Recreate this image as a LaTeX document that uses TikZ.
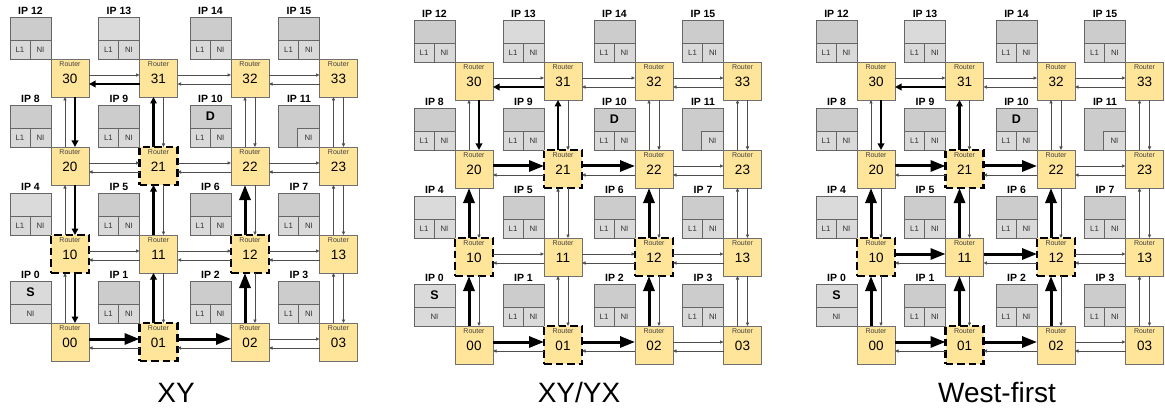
\documentclass[tikz,border=0pt]{standalone}
\usepackage{fontspec}
\setmainfont{Liberation Sans}
\usetikzlibrary{arrows.meta}
\definecolor{rfill}{HTML}{FFE599}
\definecolor{rdraw}{HTML}{707070}
\definecolor{iptop}{HTML}{CCCCCC}
\definecolor{iplight}{HTML}{DADADA}
\definecolor{ipcell}{HTML}{D9D9D9}
\definecolor{ipdraw}{HTML}{666666}
\definecolor{linkc}{HTML}{4D4D4D}
\newcommand\tk[4]{\expandafter\def\csname tk-#1-#2-#3\endcsname{#4}}
\newcommand\getst[3]{\ifcsname tk-#1-#2-#3\endcsname\edef\st{\csname tk-#1-#2-#3\endcsname}\else\def\st{thinarr}\fi}
\expandafter\def\csname dsh21\endcsname{}
\expandafter\def\csname dsh10\endcsname{}
\expandafter\def\csname dsh12\endcsname{}
\expandafter\def\csname dsh01\endcsname{}
\expandafter\def\csname lt13\endcsname{}
\expandafter\def\csname lt4\endcsname{}
\expandafter\def\csname lt0\endcsname{}
% panel a : XY
\tk{a}{00}{01}{tkbig}\tk{a}{01}{02}{tkbig}\tk{a}{02}{12}{tkbig}\tk{a}{12}{22}{tkbig}
\tk{a}{31}{30}{tksmall}\tk{a}{30}{20}{tksmall}\tk{a}{20}{10}{tksmall}\tk{a}{10}{00}{tksmall}
\tk{a}{01}{11}{tksmall}\tk{a}{11}{21}{tksmall}\tk{a}{21}{31}{tksmall}
% panel b : XY/YX
\tk{b}{00}{01}{tkbig}\tk{b}{01}{02}{tkbig}\tk{b}{02}{12}{tkbig}\tk{b}{12}{22}{tkbig}
\tk{b}{00}{10}{tkbig}\tk{b}{10}{20}{tkbig}\tk{b}{20}{21}{tkbig}\tk{b}{21}{22}{tkbig}
\tk{b}{31}{30}{tksmall}\tk{b}{30}{20}{tksmall}\tk{b}{21}{31}{tksmall}
% panel c : West-first
\tk{c}{00}{01}{tkbig}\tk{c}{01}{02}{tkbig}\tk{c}{02}{12}{tkbig}\tk{c}{12}{22}{tkbig}
\tk{c}{00}{10}{tkbig}\tk{c}{10}{20}{tkbig}\tk{c}{20}{21}{tkbig}\tk{c}{21}{22}{tkbig}
\tk{c}{10}{11}{tkbig}\tk{c}{11}{12}{tkbig}\tk{c}{01}{11}{tkbig}\tk{c}{11}{21}{tkbig}
\tk{c}{31}{30}{tksmall}\tk{c}{30}{20}{tksmall}\tk{c}{21}{31}{tksmall}
\begin{document}
\begin{tikzpicture}[x=1pt,y=-1pt,
  router/.style={rectangle, minimum size=38pt, inner sep=0pt, outer sep=0pt, fill=rfill, draw=rdraw, line width=0.8pt},
  routerd/.style={router, draw=black, line width=2.3pt, dash pattern=on 7.5pt off 4pt},
  rtxt/.style={inner sep=0pt, font=\fontsize{7}{8}\selectfont, text=black!75},
  rnum/.style={inner sep=0pt, font=\fontsize{13.5}{15}\selectfont},
  ipbox/.style={rectangle, minimum width=41pt, minimum height=42pt, inner sep=0pt, outer sep=0pt, draw=ipdraw, line width=0.8pt},
  ipcellst/.style={draw=ipdraw, line width=0.8pt, fill=ipcell},
  iptxt/.style={inner sep=0pt, font=\fontsize{7.8}{9}\selectfont, text=black!80},
  iplabel/.style={inner sep=0pt, font=\bfseries\fontsize{10.5}{12}\selectfont},
  ipsd/.style={inner sep=0pt, font=\bfseries\fontsize{12.5}{14}\selectfont},
  plabel/.style={inner sep=0pt, anchor=base, font=\fontsize{28}{30}\selectfont},
  thinarr/.style={draw=linkc, line width=0.7pt, -{Triangle[length=3.5pt,width=3.2pt]}},
  tkbig/.style={draw=black, line width=3pt, -{Triangle[length=15pt,width=11pt]}},
  tksmall/.style={draw=black, line width=2.3pt, -{Triangle[length=6.5pt,width=6.5pt]}}]
\useasboundingbox (0,0) rectangle (1165,409);
\foreach \p/\xa/\xb/\xc/\xd/\ya in {a/70/158.5/250/338.5/0, b/474/563/654/742.5/3, c/876/964.5/1056/1144.5/3}{
  \foreach \r/\yy in {0/342,1/254,2/166,3/78}{
    \foreach \c/\xx in {0/\xa,1/\xb,2/\xc,3/\xd}{
      \pgfmathsetmacro\x{\xx}
      \pgfmathsetmacro\y{\yy+\ya}
      \pgfmathtruncatemacro\n{4*\r+\c}
      % IP block
      \ifcsname lt\n\endcsname\def\topc{iplight}\else\def\topc{iptop}\fi
      \node[ipbox, fill=\topc] (\p ip\r\c) at (\x-39.5,\y-40) {};
      \node[iplabel] (\p ipl\r\c) at (\x-39.5,\y-67) {IP \n};
      \ifnum\n=0
        \draw[ipcellst, fill=iplight] (\x-60,\y-38) rectangle (\x-19,\y-19);
        \node[iptxt] (\p ni\r\c) at (\x-39.5,\y-28.5) {NI};
        \node[ipsd] (\p s\r\c) at (\x-39.5,\y-49.5) {S};
      \else\ifnum\n=11
        \draw[ipcellst] (\x-41,\y-38) rectangle (\x-19,\y-19);
        \node[iptxt] (\p ni\r\c) at (\x-30,\y-28.5) {NI};
      \else
        \draw[ipcellst] (\x-60,\y-38) rectangle (\x-40,\y-19);
        \draw[ipcellst] (\x-40,\y-38) rectangle (\x-19,\y-19);
        \node[iptxt] (\p lone\r\c) at (\x-50,\y-28.5) {L1};
        \node[iptxt] (\p ni\r\c) at (\x-29.5,\y-28.5) {NI};
        \ifnum\n=10 \node[ipsd] (\p d\r\c) at (\x-39.5,\y-49.5) {D};\fi
      \fi\fi
      % router
      \ifcsname dsh\r\c\endcsname\def\rst{routerd}\else\def\rst{router}\fi
      \node[\rst] (\p\r\c) at (\x,\y) {};
      \node[rtxt] (\p\r\c t) at ([yshift=-5.5pt]\p\r\c.north) {Router};
      \node[rnum] (\p\r\c n) at ([yshift=-0.7pt]\p\r\c.center) {\r\c};
    }
  }
  % links
  \foreach \r in {0,...,3}{
    \foreach \c in {0,...,3}{
      \ifnum\c<3
        \pgfmathtruncatemacro\cc{\c+1}
        \getst{\p}{\r\c}{\r\cc}
        \expandafter\draw\expandafter[\st] ([yshift=3pt]\p\r\c.east) -- ([yshift=3pt]\p\r\cc.west);
        \getst{\p}{\r\cc}{\r\c}
        \expandafter\draw\expandafter[\st] ([yshift=-6pt]\p\r\cc.west) -- ([yshift=-6pt]\p\r\c.east);
      \fi
      \ifnum\r<3
        \pgfmathtruncatemacro\rr{\r+1}
        \getst{\p}{\r\c}{\rr\c}
        \expandafter\draw\expandafter[\st] ([xshift=-5pt]\p\r\c.north) -- ([xshift=-5pt]\p\rr\c.south);
        \getst{\p}{\rr\c}{\r\c}
        \expandafter\draw\expandafter[\st] ([xshift=5pt]\p\rr\c.south) -- ([xshift=5pt]\p\r\c.north);
      \fi
    }
  }
}
\node[plabel] (la) at (176,402) {XY};
\node[plabel] (lb) at (579,402) {XY/YX};
\node[plabel] (lc) at (997,402) {West-first};
\end{tikzpicture}
\end{document}
